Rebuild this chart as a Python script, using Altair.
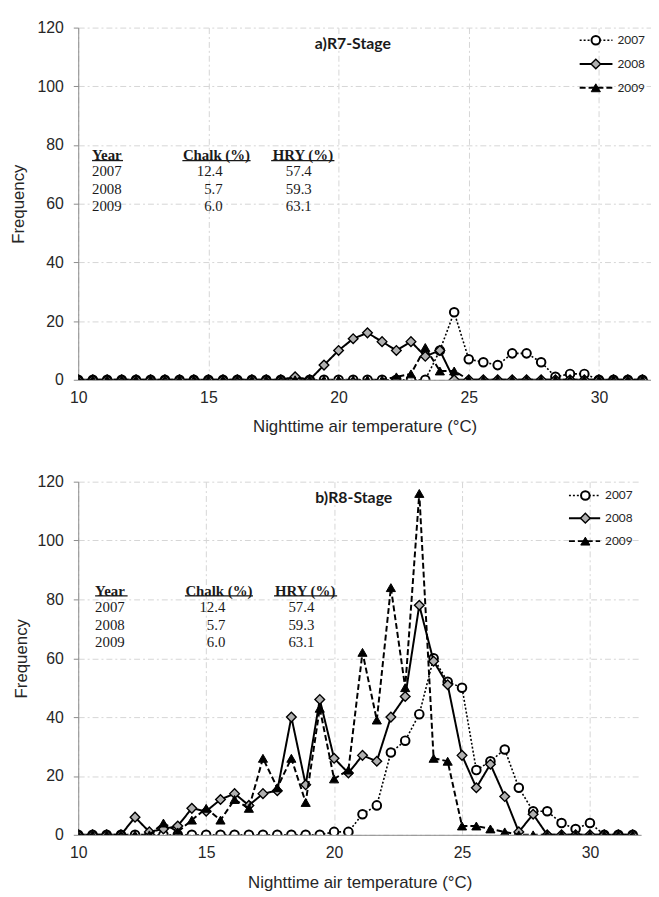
import altair as alt
import pandas as pd

# x positions: 1 °F bins expressed in °C
temps = [10.0, 10.56, 11.11, 11.67, 12.22, 12.78, 13.33, 13.89, 14.44, 15.0,
         15.56, 16.11, 16.67, 17.22, 17.78, 18.33, 18.89, 19.44, 20.0, 20.56,
         21.11, 21.67, 22.22, 22.78, 23.33, 23.89, 24.44, 25.0, 25.56, 26.11,
         26.67, 27.22, 27.78, 28.33, 28.89, 29.44, 30.0, 30.56, 31.11, 31.67]

years = ["2007", "2008", "2009"]

# a) R7-Stage
r7_2007 = [0, 0, 0, 0, 0, 0, 0, 0, 0, 0, 0, 0, 0, 0, 0, 0, 0, 0, 0, 0,
           0, 0, 0, 0, 0, 10, 23, 7, 6, 5, 9, 9, 6, 1, 2, 2, 0, 0, 0, 0]
r7_2008 = [0, 0, 0, 0, 0, 0, 0, 0, 0, 0, 0, 0, 0, 0, 0, 1, 0, 5, 10, 14,
           16, 13, 10, 13, 8, 10, 0, 0, 0, 0, 0, 0, 0, 0, 0, 0, 0, 0, 0, 0]
r7_2009 = [0, 0, 0, 0, 0, 0, 0, 0, 0, 0, 0, 0, 0, 0, 0, 0, 0, 0, 0, 0,
           0, 0, 1, 2, 11, 3, 3, 0, 0, 0, 0, 0, 0, 0, 0, 0, 0, 0, 0, 0]

# b) R8-Stage
r8_2007 = [0, 0, 0, 0, 0, 0, 0, 0, 0, 0, 0, 0, 0, 0, 0, 0, 0, 0, 1, 1,
           7, 10, 28, 32, 41, 60, 52, 50, 22, 25, 29, 16, 8, 8, 4, 2, 4, 0, 0, 0]
r8_2008 = [0, 0, 0, 0, 6, 1, 2, 3, 9, 8, 12, 14, 10, 14, 15, 40, 17, 46, 26, 21,
           27, 25, 40, 47, 78, 59, 51, 27, 16, 24, 13, 1, 7, 0, 0, 0, 0, 0, 0, 0]
r8_2009 = [0, 0, 0, 0, 0, 0, 4, 1, 5, 9, 5, 12, 9, 26, 16, 26, 11, 43, 19, 22,
           62, 39, 84, 50, 116, 26, 25, 3, 3, 2, 1, 0, 0, 0, 0, 0, 0, 0, 0, 0]

# inset table
table_headers = ["Year", "Chalk (%)", "HRY (%)"]
table_years = ["2007", "2008", "2009"]
chalk = ["12.4", "5.7", "6.0"]
hry = ["57.4", "59.3", "63.1"]

stage_titles = ["a)R7-Stage", "b)R8-Stage"]

STYLE = {
    "2007": dict(dash=[2, 2], sw=1.6, shape="circle", fill="white", size=75, psw=2.0),
    "2008": dict(dash=[1, 0], sw=2.0, shape="diamond", fill="#b0b0b0", size=95, psw=1.4),
    "2009": dict(dash=[6, 3], sw=2.0, shape="triangle-up", fill="black", size=85, psw=1.0),
}

AX = "#8c8c8c"
TXT = "#262626"
GRID = "#d6d6d6"


def make_panel(series, lay):
    xs = alt.Scale(domain=[10, 32], nice=False, zero=False)
    ys = alt.Scale(domain=[0, 120], nice=False)
    xaxis = alt.Axis(values=[10, 15, 20, 25, 30], title="Nighttime air temperature (°C)",
                     grid=True, gridColor=GRID, gridDash=[6, 3, 2, 3], ticks=False,
                     labelPadding=lay["xlabpad"], labelFont="Liberation Sans", labelFontSize=16,
                     labelColor=TXT, labelFlush=False, titleFont="Liberation Sans",
                     titleFontSize=17, titleFontWeight="normal", titleColor=TXT,
                     titlePadding=lay["xtitlepad"], domainColor=AX)
    yaxis = alt.Axis(values=[0, 20, 40, 60, 80, 100, 120], title="Frequency",
                     grid=True, gridColor=GRID, gridDash=[6, 3, 2, 3], ticks=True,
                     tickSize=5, tickColor=AX, labelPadding=10, labelFont="Liberation Sans",
                     labelFontSize=16, labelColor=TXT, titleFont="Liberation Sans",
                     titleFontSize=17, titleFontWeight="normal", titleColor=TXT,
                     titlePadding=8, minExtent=lay["yext"], maxExtent=lay["yext"],
                     domainColor=AX)

    def X(f="t"):
        return alt.X(f"{f}:Q", scale=xs, axis=xaxis)

    def Y(f="f"):
        return alt.Y(f"{f}:Q", scale=ys, axis=yaxis)

    layers = []
    for yr, vals in zip(years, series):
        st = STYLE[yr]
        df = pd.DataFrame({"t": temps, "f": vals})
        base = alt.Chart(df)
        layers.append(base.mark_line(color="black", strokeWidth=st["sw"],
                                     strokeDash=st["dash"], clip=True)
                      .encode(x=X(), y=Y()))
        layers.append(base.mark_point(shape=st["shape"], filled=True, fill=st["fill"],
                                      stroke="black", strokeWidth=st["psw"],
                                      size=st["size"], opacity=1, clip=True)
                      .encode(x=X(), y=Y()))

    # legend (drawn inside the plot)
    lg = lay["legend"]
    for yr, ly in zip(years, lg["ys"]):
        st = STYLE[yr]
        ldf = pd.DataFrame({"t": [lg["x1"]], "t2": [lg["x2"]], "f": [ly],
                            "tm": [lg["xm"]], "tt": [lg["xt"]], "lab": [yr]})
        lb = alt.Chart(ldf)
        layers.append(lb.mark_rule(color="black", strokeWidth=st["sw"], strokeDash=st["dash"])
                      .encode(x=X(), x2="t2:Q", y=Y()))
        layers.append(lb.mark_point(shape=st["shape"], filled=True, fill=st["fill"],
                                    stroke="black", strokeWidth=st["psw"],
                                    size=st["size"], opacity=1)
                      .encode(x=X("tm"), y=Y()))
        layers.append(lb.mark_text(align="left", baseline="middle", font="Lato",
                                   fontSize=12, color=TXT, dx=0)
                      .encode(x=X("tt"), y=Y(), text="lab:N"))

    # stage title
    tdf = pd.DataFrame({"t": [lay["title_x"]], "f": [lay["title_y"]], "lab": [lay["title"]]})
    layers.append(alt.Chart(tdf).mark_text(align="center", baseline="middle", font="Lato",
                                           fontSize=16, fontWeight="bold", color="#1a1a1a")
                  .encode(x=X(), y=Y(), text="lab:N"))

    # inset table
    tb = lay["table"]
    hdf = pd.DataFrame({"t": [tb["year_x"], tb["chalk_c"], tb["hry_c"]],
                        "f": [tb["head_y"]] * 3,
                        "lab": table_headers,
                        "al": ["left", "center", "center"]})
    layers.append(alt.Chart(hdf[hdf.al == "left"]).mark_text(
        align="left", baseline="middle", font="Liberation Serif", fontSize=15,
        fontWeight="bold", color="#1a1a1a").encode(x=X(), y=Y(), text="lab:N"))
    layers.append(alt.Chart(hdf[hdf.al == "center"]).mark_text(
        align="center", baseline="middle", font="Liberation Serif", fontSize=15,
        fontWeight="bold", color="#1a1a1a").encode(x=X(), y=Y(), text="lab:N"))
    udf = pd.DataFrame({"t": [u[0] for u in tb["under"]], "t2": [u[1] for u in tb["under"]],
                        "f": [tb["under_y"]] * 3})
    layers.append(alt.Chart(udf).mark_rule(color="#1a1a1a", strokeWidth=1.3)
                  .encode(x=X(), x2="t2:Q", y=Y()))
    ydf = pd.DataFrame({"t": [tb["year_x"]] * 3, "f": tb["rows"], "lab": table_years})
    layers.append(alt.Chart(ydf).mark_text(align="left", baseline="middle",
                                           font="Liberation Serif", fontSize=15, color="#1a1a1a")
                  .encode(x=X(), y=Y(), text="lab:N"))
    cdf = pd.DataFrame({"t": [tb["chalk_r"]] * 3 + [tb["hry_r"]] * 3,
                        "f": tb["rows"] * 2, "lab": chalk + hry})
    layers.append(alt.Chart(cdf).mark_text(align="right", baseline="middle",
                                           font="Liberation Serif", fontSize=15, color="#1a1a1a")
                  .encode(x=X(), y=Y(), text="lab:N"))

    return alt.layer(*layers).properties(width=lay["w"], height=lay["h"])


lay_a = dict(
    w=579, h=356, yext=43, xlabpad=10, xtitlepad=13,
    title=stage_titles[0], title_x=20.55, title_y=114.5,
    legend=dict(x1=29.26, x2=30.52, xm=29.88, xt=30.71, ys=[115.7, 107.6, 99.5]),
    table=dict(year_x=10.53, chalk_c=15.31, chalk_r=15.55, hry_c=18.63, hry_r=18.97,
               head_y=76.5, rows=[71.0, 65.0, 59.3], under_y=74.7,
               under=[(10.53, 11.72), (14.0, 16.62), (17.41, 19.84)]),
)
lay_b = dict(
    w=569, h=357, yext=40.3, xlabpad=10, xtitlepad=14,
    title=stage_titles[1], title_x=20.77, title_y=114.4,
    legend=dict(x1=29.18, x2=30.4, xm=29.82, xt=30.59, ys=[115.3, 107.6, 99.8]),
    table=dict(year_x=10.66, chalk_c=15.5, chalk_r=15.75, hry_c=18.87, hry_r=19.23,
               head_y=82.8, rows=[77.3, 71.3, 65.5], under_y=81.2,
               under=[(10.66, 11.93), (14.17, 16.83), (17.65, 20.12)]),
)

pa = make_panel([r7_2007, r7_2008, r7_2009], lay_a)
pb = make_panel([r8_2007, r8_2008, r8_2009], lay_b)

chart = (alt.vconcat(pa, pb, spacing=40)
         .properties(padding={"left": 2, "top": 7, "right": 0, "bottom": 0},
                     background="white")
         .configure_view(stroke=None))

chart.save("out.html", embed_options={"renderer": "svg", "actions": False})
